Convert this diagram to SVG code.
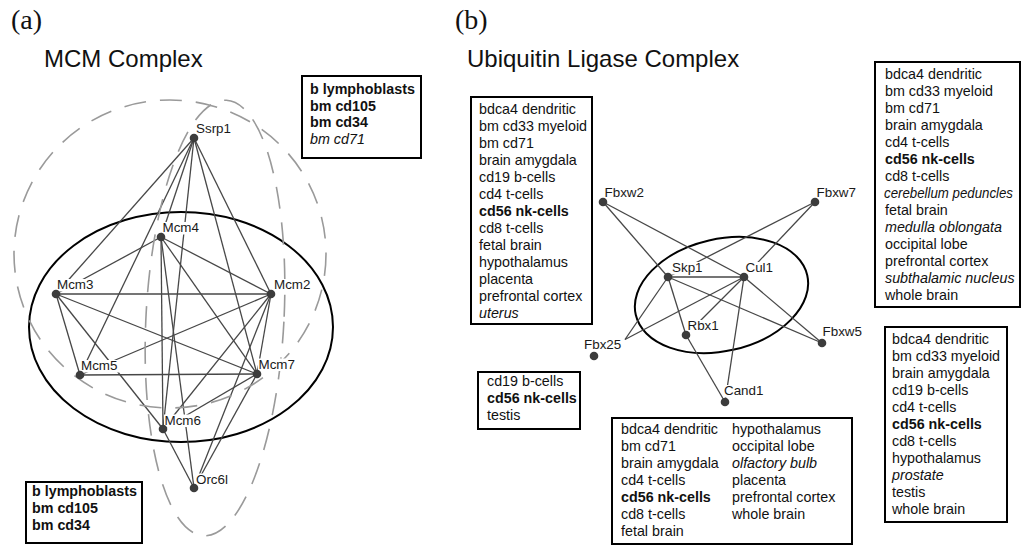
<svg xmlns="http://www.w3.org/2000/svg" width="1022" height="546" viewBox="0 0 1022 546">
  <style>
    .tag { font-family: "Liberation Serif", "Times New Roman", serif; font-size: 28px; fill: #111; }
    .title { font-family: "Liberation Sans", Arial, sans-serif; font-size: 24px; fill: #111; }
    .lbl { font-family: "Liberation Sans", Arial, sans-serif; font-size: 13.4px; fill: #1a1a1a; }
    .lbg { fill: #fff; }
    .dot { fill: #3c3c3c; }
    .edges line { stroke: #474747; stroke-width: 1.3; }
    .hull { fill: none; stroke: #000; stroke-width: 2; }
    .dash { fill: none; stroke: #9a9a9a; stroke-width: 1.6; stroke-dasharray: 22 14; }
    .frame { fill: #fff; stroke: #000; stroke-width: 2; }
    .box text { font-family: "Liberation Sans", Arial, sans-serif; font-size: 14.3px; fill: #111; }
    .b { font-weight: bold; }
    .i { font-style: italic; }
  </style>

  <!-- ===================== (a) MCM complex ===================== -->
  <text class="tag" x="11" y="29">(a)</text>
  <text class="title" x="44" y="67">MCM Complex</text>

  <g id="mcm-hull">
    <ellipse class="hull" cx="181" cy="327" rx="152" ry="115"/>
  </g>

  <g id="mcm-edges" class="edges">
    <!-- Ssrp1 -->
    <line x1="194" y1="138" x2="56" y2="294"/>
    <line x1="194" y1="138" x2="80" y2="375"/>
    <line x1="194" y1="138" x2="161" y2="237"/>
    <line x1="194" y1="138" x2="163" y2="429"/>
    <line x1="194" y1="138" x2="257" y2="374"/>
    <line x1="194" y1="138" x2="271" y2="294"/>
    <!-- Mcm4 -->
    <line x1="161" y1="237" x2="56" y2="294"/>
    <line x1="161" y1="237" x2="271" y2="294"/>
    <line x1="161" y1="237" x2="163" y2="429"/>
    <line x1="161" y1="237" x2="257" y2="374"/>
    <line x1="161" y1="237" x2="194" y2="488"/>
    <!-- Mcm3 -->
    <line x1="56" y1="294" x2="271" y2="294"/>
    <line x1="56" y1="294" x2="80" y2="375"/>
    <line x1="56" y1="294" x2="257" y2="374"/>
    <line x1="56" y1="294" x2="163" y2="429"/>
    <!-- Mcm2 -->
    <line x1="271" y1="294" x2="80" y2="375"/>
    <line x1="271" y1="294" x2="257" y2="374"/>
    <line x1="271" y1="294" x2="163" y2="429"/>
    <line x1="271" y1="294" x2="194" y2="488"/>
    <!-- Mcm5 / Mcm7 / Mcm6 -->
    <line x1="80" y1="375" x2="257" y2="374"/>
    <line x1="257" y1="374" x2="163" y2="429"/>
    <line x1="257" y1="374" x2="194" y2="488"/>
    <line x1="163" y1="429" x2="194" y2="488"/>
  </g>

  <g id="mcm-clusters">
    <ellipse class="dash" cx="170" cy="254" rx="156" ry="154"/>
    <ellipse class="dash" cx="215" cy="318" rx="69" ry="218" transform="rotate(3 215 318)"/>
  </g>

  <g id="node-ssrp1">
    <rect class="lbg" x="195" y="123" width="37" height="12.5"/>
    <circle class="dot" cx="194" cy="138" r="4.3"/>
    <text class="lbl" x="196" y="133">Ssrp1</text>
  </g>
  <g id="node-mcm4">
    <rect class="lbg" x="161.5" y="222" width="38.5" height="12.5"/>
    <circle class="dot" cx="161" cy="237" r="4.3"/>
    <text class="lbl" x="162.5" y="232">Mcm4</text>
  </g>
  <g id="node-mcm3">
    <rect class="lbg" x="56" y="279" width="38.5" height="12.5"/>
    <circle class="dot" cx="56" cy="294" r="4.3"/>
    <text class="lbl" x="57" y="289">Mcm3</text>
  </g>
  <g id="node-mcm2">
    <rect class="lbg" x="273" y="279" width="38.5" height="12.5"/>
    <circle class="dot" cx="271" cy="294" r="4.3"/>
    <text class="lbl" x="274" y="289">Mcm2</text>
  </g>
  <g id="node-mcm5">
    <rect class="lbg" x="80.5" y="360" width="38.5" height="12.5"/>
    <circle class="dot" cx="80" cy="375" r="4.3"/>
    <text class="lbl" x="81" y="370">Mcm5</text>
  </g>
  <g id="node-mcm7">
    <rect class="lbg" x="258" y="358.5" width="38.5" height="12.5"/>
    <circle class="dot" cx="257" cy="374" r="4.3"/>
    <text class="lbl" x="258.5" y="368.5">Mcm7</text>
  </g>
  <g id="node-mcm6">
    <rect class="lbg" x="164" y="414.5" width="38.5" height="12.5"/>
    <circle class="dot" cx="163" cy="429" r="4.3"/>
    <text class="lbl" x="164.5" y="424.5">Mcm6</text>
  </g>
  <g id="node-orc6l">
    <rect class="lbg" x="195" y="473.5" width="34" height="12.5"/>
    <circle class="dot" cx="194" cy="488" r="4.3"/>
    <text class="lbl" x="196" y="483.5">Orc6l</text>
  </g>

  <g id="mcm-box-top" class="box">
    <rect class="frame" x="302" y="76" width="119" height="82"/>
    <text class="b" x="310" y="94">b lymphoblasts</text>
    <text class="b" x="310" y="110.7">bm cd105</text>
    <text class="b" x="310" y="127.3">bm cd34</text>
    <text class="i" x="310" y="144">bm cd71</text>
  </g>
  <g id="mcm-box-bottom" class="box">
    <rect class="frame" x="26" y="482" width="116" height="61"/>
    <text class="b" x="32" y="496">b lymphoblasts</text>
    <text class="b" x="32" y="513">bm cd105</text>
    <text class="b" x="32" y="530">bm cd34</text>
  </g>

  <!-- ===================== (b) Ubiquitin ligase complex ===================== -->
  <text class="tag" x="455" y="29">(b)</text>
  <text class="title" x="467" y="67">Ubiquitin Ligase Complex</text>

  <g id="ubq-hull">
    <ellipse class="hull" cx="721.5" cy="295" rx="88" ry="56" transform="rotate(-13 721.5 295)"/>
  </g>

  <g id="ubq-edges" class="edges">
    <line x1="603" y1="202" x2="668" y2="277"/>
    <line x1="603" y1="202" x2="744" y2="277"/>
    <line x1="815" y1="202" x2="668" y2="277"/>
    <line x1="815" y1="202" x2="744" y2="277"/>
    <line x1="668" y1="277" x2="744" y2="277"/>
    <line x1="668" y1="277" x2="686" y2="335"/>
    <line x1="668" y1="277" x2="822" y2="343"/>
    <line x1="668" y1="277" x2="625" y2="339.5"/>
    <line x1="744" y1="277" x2="625" y2="339.5"/>
    <line x1="744" y1="277" x2="686" y2="335"/>
    <line x1="744" y1="277" x2="822" y2="343"/>
    <line x1="744" y1="277" x2="725" y2="402"/>
    <line x1="686" y1="335" x2="725" y2="402"/>
  </g>

  <g id="node-fbxw2">
    <rect class="lbg" x="603.5" y="187" width="40.5" height="12.5"/>
    <circle class="dot" cx="603" cy="202" r="4.3"/>
    <text class="lbl" x="604.5" y="197">Fbxw2</text>
  </g>
  <g id="node-fbxw7">
    <rect class="lbg" x="815.5" y="187" width="40.5" height="12.5"/>
    <circle class="dot" cx="815" cy="202" r="4.3"/>
    <text class="lbl" x="816.5" y="197">Fbxw7</text>
  </g>
  <g id="node-skp1">
    <rect class="lbg" x="671" y="262" width="32" height="12.5"/>
    <circle class="dot" cx="668" cy="277" r="4.3"/>
    <text class="lbl" x="672" y="272">Skp1</text>
  </g>
  <g id="node-cul1">
    <rect class="lbg" x="744.5" y="262" width="29.5" height="12.5"/>
    <circle class="dot" cx="744" cy="277" r="4.3"/>
    <text class="lbl" x="745.5" y="272">Cul1</text>
  </g>
  <g id="node-rbx1">
    <rect class="lbg" x="686.5" y="320" width="32.5" height="12.5"/>
    <circle class="dot" cx="686" cy="335" r="4.3"/>
    <text class="lbl" x="687.5" y="330">Rbx1</text>
  </g>
  <g id="node-fbx25">
    <rect class="lbg" x="583" y="339.5" width="39" height="12.5"/>
    <circle class="dot" cx="594" cy="356" r="4.3"/>
    <text class="lbl" x="584" y="349">Fbx25</text>
  </g>
  <g id="node-fbxw5">
    <rect class="lbg" x="821.5" y="326" width="40.5" height="12.5"/>
    <circle class="dot" cx="822" cy="343" r="4.3"/>
    <text class="lbl" x="822.5" y="336">Fbxw5</text>
  </g>
  <g id="node-cand1">
    <rect class="lbg" x="723" y="385" width="40.5" height="12.5"/>
    <circle class="dot" cx="725" cy="402" r="4.3"/>
    <text class="lbl" x="724" y="395">Cand1</text>
  </g>

  <g id="ubq-box-left" class="box">
    <rect class="frame" x="471" y="97" width="121" height="227"/>
    <text x="479" y="114">bdca4 dendritic</text>
    <text x="479" y="131">bm cd33 myeloid</text>
    <text x="479" y="148">bm cd71</text>
    <text x="479" y="165">brain amygdala</text>
    <text x="479" y="182">cd19 b-cells</text>
    <text x="479" y="199">cd4 t-cells</text>
    <text class="b" x="479" y="216">cd56 nk-cells</text>
    <text x="479" y="233">cd8 t-cells</text>
    <text x="479" y="250">fetal brain</text>
    <text x="479" y="267">hypothalamus</text>
    <text x="479" y="284">placenta</text>
    <text x="479" y="301">prefrontal cortex</text>
    <text class="i" x="479" y="318">uterus</text>
  </g>

  <g id="ubq-box-right" class="box">
    <rect class="frame" x="875" y="62" width="145" height="245"/>
    <text x="885" y="79">bdca4 dendritic</text>
    <text x="885" y="96">bm cd33 myeloid</text>
    <text x="885" y="113">bm cd71</text>
    <text x="885" y="130">brain amygdala</text>
    <text x="885" y="147">cd4 t-cells</text>
    <text class="b" x="885" y="164">cd56 nk-cells</text>
    <text x="885" y="181">cd8 t-cells</text>
    <text class="i" x="884" y="198" textLength="129" lengthAdjust="spacingAndGlyphs">cerebellum peduncles</text>
    <text x="885" y="215">fetal brain</text>
    <text class="i" x="885" y="232">medulla oblongata</text>
    <text x="885" y="249">occipital lobe</text>
    <text x="885" y="266">prefrontal cortex</text>
    <text class="i" x="885" y="283">subthalamic nucleus</text>
    <text x="885" y="300">whole brain</text>
  </g>

  <g id="ubq-box-lower-right" class="box">
    <rect class="frame" x="885" y="327" width="122" height="195"/>
    <text x="892" y="344">bdca4 dendritic</text>
    <text x="892" y="361">bm cd33 myeloid</text>
    <text x="892" y="378">brain amygdala</text>
    <text x="892" y="395">cd19 b-cells</text>
    <text x="892" y="412">cd4 t-cells</text>
    <text class="b" x="892" y="429">cd56 nk-cells</text>
    <text x="892" y="446">cd8 t-cells</text>
    <text x="892" y="463">hypothalamus</text>
    <text class="i" x="892" y="480">prostate</text>
    <text x="892" y="497">testis</text>
    <text x="892" y="514">whole brain</text>
  </g>

  <g id="ubq-box-fbx25" class="box">
    <rect class="frame" x="478" y="372" width="102" height="57"/>
    <text x="487" y="386">cd19 b-cells</text>
    <text class="b" x="487" y="403">cd56 nk-cells</text>
    <text x="487" y="420">testis</text>
  </g>

  <g id="ubq-box-cand1" class="box">
    <rect class="frame" x="612" y="418" width="240" height="126"/>
    <text x="621" y="434">bdca4 dendritic</text>
    <text x="621" y="451">bm cd71</text>
    <text x="621" y="468">brain amygdala</text>
    <text x="621" y="485">cd4 t-cells</text>
    <text class="b" x="621" y="502">cd56 nk-cells</text>
    <text x="621" y="519">cd8 t-cells</text>
    <text x="621" y="536">fetal brain</text>
    <text x="732" y="434">hypothalamus</text>
    <text x="732" y="451">occipital lobe</text>
    <text class="i" x="732" y="468">olfactory bulb</text>
    <text x="732" y="485">placenta</text>
    <text x="732" y="502">prefrontal cortex</text>
    <text x="732" y="519">whole brain</text>
  </g>
</svg>
